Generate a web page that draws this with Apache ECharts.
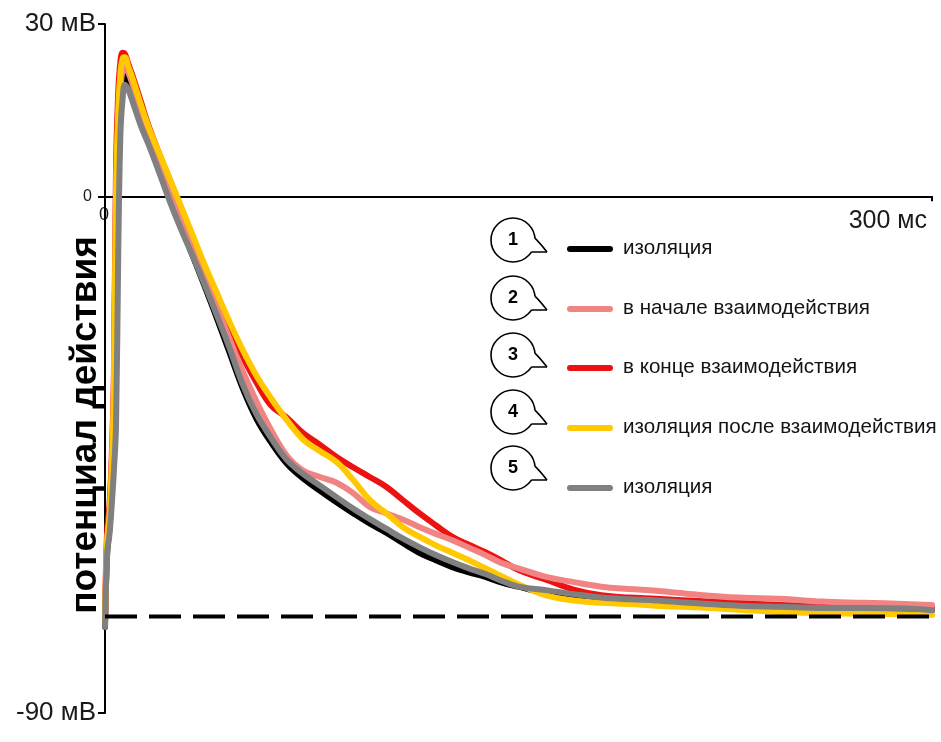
<!DOCTYPE html>
<html>
<head>
<meta charset="utf-8">
<title>Потенциал действия</title>
<script src="https://cdn.jsdelivr.net/npm/echarts@6/dist/echarts.min.js"></script>
<style>
  html, body { margin: 0; padding: 0; background: #ffffff; }
  #chart { width: 941px; height: 742px; }
</style>
</head>
<body>
<div id="chart"></div>
<script>
// Time points, ms
const timeMs = [0, 0.8, 1.6, 2.4, 3.2, 4.0, 4.8, 5.6, 6.4, 7.2, 8.5, 10, 13, 16, 20, 24, 28, 32, 36, 40, 45, 50, 55, 60, 66, 72, 78, 84, 90, 96, 102, 108, 114, 120, 126, 132, 138, 144, 150, 160, 170, 180, 190, 200, 215, 230, 245, 260, 275, 290, 300];

// Membrane potential, mV
const isolationFirst = [-75, -62, -58, -52, -40, -20, 5, 16, 20, 21, 20, 17.8, 12.8, 9.4, 4.3, -1.0, -5.8, -10.6, -15.5, -20.5, -27, -33.5, -38.8, -42.7, -46.6, -49.2, -51.3, -53.3, -55.2, -57, -58.6, -60.4, -62.1, -63.4, -64.6, -65.5, -66.3, -67.3, -68.0, -69.1, -69.7, -70.2, -70.4, -70.6, -71.0, -71.4, -71.7, -71.8, -71.8, -71.9, -72.1];
const interactionStart = [-74, -60, -56, -48, -34, 0, 13, 19, 22, 22.7, 21.5, 19.5, 14.8, 11, 5.8, 0.8, -3.8, -8.6, -13.4, -18.4, -24.6, -30.5, -35.8, -40.5, -45.2, -47.8, -48.9, -49.9, -51.7, -54.1, -55.2, -56.3, -57.6, -58.8, -59.9, -61.2, -62.5, -63.9, -64.8, -66.3, -67.2, -68.0, -68.4, -68.7, -69.4, -69.9, -70.1, -70.6, -70.8, -71.0, -71.2];
const interactionEnd = [-74, -58, -54, -46, -32, 5, 18, 23.5, 25, 24.8, 23, 21, 16.5, 12, 7, 2.3, -2.5, -7.5, -12.5, -17.5, -23, -28, -32.5, -36.3, -38.6, -41.3, -43.3, -45.4, -47.2, -48.9, -50.6, -52.9, -55.2, -57.3, -59.3, -60.7, -62.0, -63.5, -65.1, -66.8, -68.5, -69.5, -69.9, -70.1, -70.5, -70.8, -71.2, -71.3, -71.4, -71.6, -71.7];
const isolationAfter = [-74, -60, -56, -48, -35, 0, 15, 21.5, 24, 24.2, 22.5, 20.5, 16, 11.8, 7.1, 2.4, -2.3, -7.0, -11.8, -16.2, -21.7, -26.8, -31.3, -35, -39, -42.4, -44.4, -46.3, -49.4, -52.9, -55.2, -57.6, -59.3, -60.8, -62.1, -63.4, -64.8, -66.2, -67.6, -69.5, -70.4, -70.8, -71.0, -71.3, -71.6, -72.0, -72.4, -72.6, -72.7, -72.8, -72.9];
const isolationLast = [-75, -62, -59, -54, -48, -40, -10, 11, 17, 19.4, 18.5, 16.5, 12.3, 8.8, 3.7, -1.5, -6.2, -10.6, -15.2, -20, -26.2, -32.8, -38.0, -41.9, -45.9, -48.4, -50.4, -52.4, -54.4, -56.2, -57.9, -59.6, -61.1, -62.5, -63.7, -64.8, -65.8, -67.0, -68.0, -68.6, -69.3, -69.9, -70.2, -70.4, -70.9, -71.3, -71.5, -71.7, -71.7, -71.8, -72.1];

// Resting level (dashed line), mV
const restingLevel = -73.2;

// Axis ranges and tick labels
const yRange = [-90, 30];
const xRange = [0, 300];
const yTickValues = [30, 0, -90];
const yTickLabels = ['30 мВ', '0', '-90 мВ'];
const xTickValues = [0, 300];
const xTickLabels = ['0', '300 мс'];

const legendNumbers = ['1', '2', '3', '4', '5'];
const legendNames = ['изоляция', 'в начале взаимодействия', 'в конце взаимодействия', 'изоляция после взаимодействия', 'изоляция'];
const legendColors = ['#000000', '#f28383', '#ee1111', '#ffc800', '#808080'];

const FONT = '"Liberation Sans", Arial, Helvetica, sans-serif';

const chart = echarts.init(document.getElementById('chart'), null, { renderer: 'canvas' });

function pairs(values) {
  return timeMs.map((t, i) => [t, values[i]]);
}

function curve(name, values, color) {
  return {
    name: name,
    type: 'line',
    data: pairs(values),
    symbol: 'none',
    smooth: 0.4,
    clip: false,
    lineStyle: { color: color, width: 6, cap: 'round', join: 'round' },
    emphasis: { disabled: true },
    silent: true
  };
}

chart.setOption({
  animation: false,
  backgroundColor: '#ffffff',
  grid: { left: 105, right: 9, top: 24, bottom: 29 },
  xAxis: {
    type: 'value',
    min: xRange[0],
    max: xRange[1],
    axisLine: { show: true, onZero: true, lineStyle: { color: '#000', width: 2 } },
    axisTick: { show: true, customValues: [300], length: 5, lineStyle: { color: '#000', width: 2 } },
    axisLabel: { show: false },
    splitLine: { show: false }
  },
  yAxis: {
    type: 'value',
    min: yRange[0],
    max: yRange[1],
    axisLine: { show: true, onZero: false, lineStyle: { color: '#000', width: 2 } },
    axisTick: { show: true, customValues: yTickValues, length: 7, lineStyle: { color: '#000', width: 2 } },
    axisLabel: { show: false },
    splitLine: { show: false }
  },
  series: [
    curve(legendNames[0], isolationFirst, legendColors[0]),
    curve(legendNames[2], interactionEnd, legendColors[2]),
    curve(legendNames[1], interactionStart, legendColors[1]),
    curve(legendNames[3], isolationAfter, legendColors[3]),
    curve(legendNames[4], isolationLast, legendColors[4]),
    {
      name: 'rest',
      type: 'line',
      data: [[xRange[0], restingLevel], [xRange[1], restingLevel]],
      symbol: 'none',
      z: 5,
      lineStyle: { color: '#000', width: 4, type: [32, 12] },
      silent: true
    }
  ]
});

// Axis labels and legend drawn as graphic elements
const graphics = [];

yTickValues.forEach((v, i) => {
  const p = chart.convertToPixel({ gridIndex: 0 }, [0, v]);
  const small = v === 0;
  graphics.push({
    type: 'text',
    x: p[0] - (small ? 13 : 9),
    y: p[1],
    style: {
      text: yTickLabels[i],
      font: (small ? '16px ' : '26px ') + FONT,
      fill: '#1a1a1a',
      align: 'right',
      verticalAlign: 'middle'
    }
  });
});

xTickValues.forEach((v, i) => {
  const p = chart.convertToPixel({ gridIndex: 0 }, [v, 0]);
  const isEnd = v === xRange[1];
  graphics.push({
    type: 'text',
    x: isEnd ? p[0] - 5 : p[0] - 1,
    y: p[1] + (isEnd ? 25 : 19),
    style: {
      text: xTickLabels[i],
      font: (isEnd ? '25px ' : '18px ') + FONT,
      fill: '#1a1a1a',
      align: isEnd ? 'right' : 'center',
      verticalAlign: 'middle'
    }
  });
});

// Vertical axis title
graphics.push({
  type: 'text',
  x: 86,
  y: 425,
  rotation: Math.PI / 2,
  style: {
    text: 'потенциал действия',
    font: 'bold 37px ' + FONT,
    fill: '#000',
    align: 'center',
    verticalAlign: 'middle'
  }
});

// Legend: numbered speech bubbles, line samples and captions
const legendCx = 513;
const bubbleY = [240, 298, 355, 412, 468];
const rowY = [249, 309, 368, 428, 488];
const R = 22;
const BUBBLE_STROKE = { stroke: '#000', lineWidth: 1.6 };

legendNumbers.forEach((num, i) => {
  const cx = legendCx;
  const cy = bubbleY[i];
  const a1 = 33 * Math.PI / 180;
  const a2 = -5 * Math.PI / 180;
  const p1 = [cx + R * Math.cos(a1), cy + R * Math.sin(a1)];
  const p2 = [cx + R * Math.cos(a2), cy + R * Math.sin(a2)];
  const tip = [cx + 34, cy + 12];

  graphics.push({
    type: 'circle',
    shape: { cx: cx, cy: cy, r: R },
    style: Object.assign({ fill: '#ffffff' }, BUBBLE_STROKE),
    z: 10
  });
  // white patch that opens the circle where the tail joins it
  graphics.push({
    type: 'polygon',
    shape: { points: [p2, [cx + 28, cy + 4], tip, p1, [cx + 12, cy + 5]] },
    style: { fill: '#ffffff', stroke: null },
    z: 11
  });
  graphics.push({
    type: 'bezierCurve',
    shape: { x1: p2[0], y1: p2[1], x2: tip[0], y2: tip[1], cpx1: cx + 27, cpy1: cy + 3 },
    style: Object.assign({ fill: null }, BUBBLE_STROKE),
    z: 12
  });
  graphics.push({
    type: 'line',
    shape: { x1: tip[0], y1: tip[1], x2: p1[0], y2: p1[1] },
    style: BUBBLE_STROKE,
    z: 12
  });
  graphics.push({
    type: 'text',
    x: cx,
    y: cy,
    style: {
      text: num,
      font: 'bold 18px ' + FONT,
      fill: '#000',
      align: 'center',
      verticalAlign: 'middle'
    },
    z: 13
  });
  graphics.push({
    type: 'line',
    shape: { x1: 570, y1: rowY[i], x2: 610, y2: rowY[i] },
    style: { stroke: legendColors[i], lineWidth: 6, lineCap: 'round' },
    z: 10
  });
  graphics.push({
    type: 'text',
    x: 623,
    y: rowY[i] - 1,
    style: {
      text: legendNames[i],
      font: '20.6px ' + FONT,
      fill: '#141414',
      align: 'left',
      verticalAlign: 'middle'
    },
    z: 10
  });
});

chart.setOption({ graphic: graphics });
</script>
</body>
</html>
